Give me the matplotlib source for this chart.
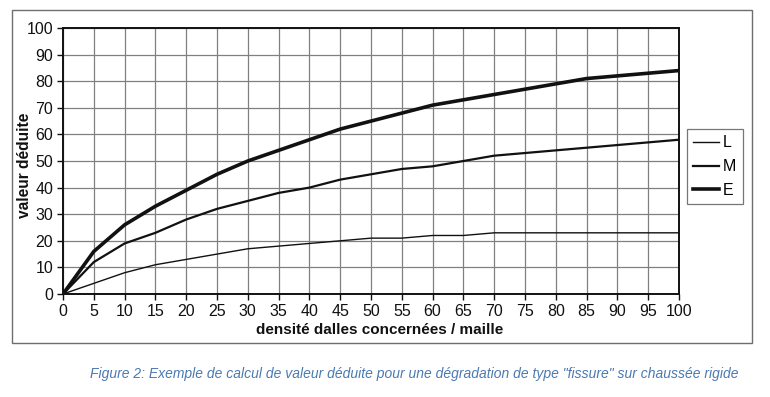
import matplotlib
matplotlib.use("Agg")
import matplotlib.pyplot as plt
from matplotlib.patches import Rectangle

plt.rcParams['font.family'] = ['Liberation Sans', 'DejaVu Sans']

x = [0, 5, 10, 15, 20, 25, 30, 35, 40, 45, 50, 55, 60, 65, 70, 75, 80, 85, 90, 95, 100]
L = [0, 4, 8, 11, 13, 15, 17, 18, 19, 20, 21, 21, 22, 22, 23, 23, 23, 23, 23, 23, 23]
M = [0, 12, 19, 23, 28, 32, 35, 38, 40, 43, 45, 47, 48, 50, 52, 53, 54, 55, 56, 57, 58]
E = [0, 16, 26, 33, 39, 45, 50, 54, 58, 62, 65, 68, 71, 73, 75, 77, 79, 81, 82, 83, 84]
xticks = list(range(0, 101, 5))
yticks = list(range(0, 101, 10))

W, H = 770, 397
fig = plt.figure(figsize=(W/100, H/100), dpi=100)

# outer frame
fig.patches.append(Rectangle((12/W, 1-343/H), (752-12)/W, (343-10)/H, transform=fig.transFigure,
                             fill=False, edgecolor='#6e6e6e', linewidth=1.0))

ax = fig.add_axes([63/W, 1-294/H, (679-63)/W, (294-28)/H])
ax.plot(x, L, color='#111111', linewidth=1.0, label='L')
ax.plot(x, M, color='#111111', linewidth=1.6, label='M')
ax.plot(x, E, color='#111111', linewidth=2.6, label='E')
ax.set_xlim(0, 100)
ax.set_ylim(0, 100)
ax.set_xticks(xticks)
ax.set_yticks(yticks)
ax.grid(True, color='#808080', linewidth=0.9)
ax.set_axisbelow(True)
for s in ax.spines.values():
    s.set_color('#111111')
    s.set_linewidth(1.4)
ax.tick_params(axis='both', labelsize=11.5, length=4, width=1, color='#111111', labelcolor='#111111', pad=3)
ax.set_xlabel('densité dalles concernées / maille', fontsize=11, fontweight='bold', color='#111111')
ax.set_ylabel('valeur déduite', fontsize=11.2, fontweight='bold', color='#111111')
ax.xaxis.set_label_coords(379.5/W, 1-330/H, transform=fig.transFigure)
ax.xaxis.label.set_va('center')
ax.yaxis.set_label_coords(25/W, 1-165/H, transform=fig.transFigure)
ax.yaxis.label.set_va('center')

leg = ax.legend(loc='upper left', bbox_to_anchor=(687/W, 1-129/H), bbox_transform=fig.transFigure,
                frameon=True, fancybox=False, fontsize=11.5, handlelength=1.6, handletextpad=0.25,
                labelspacing=0.55, borderpad=0.4, borderaxespad=0)
leg.get_frame().set_edgecolor('#555555')
leg.get_frame().set_linewidth(0.9)

fig.text(414/W, 1-374/H, 'Figure 2: Exemple de calcul de valeur déduite pour une dégradation de type "fissure" sur chaussée rigide',
         ha='center', va='center', fontsize=10, style='italic', color='#4a79b0')

fig.savefig('out.png', dpi=100)
